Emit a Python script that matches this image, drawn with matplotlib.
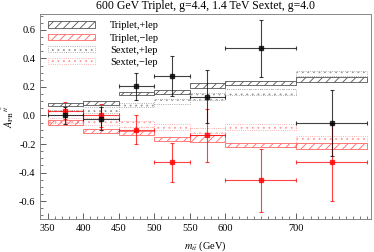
import matplotlib
matplotlib.use("Agg")
import matplotlib.pyplot as plt
from matplotlib.patches import Patch
from matplotlib.ticker import MultipleLocator
import numpy as np

plt.rcParams['font.family'] = ['Liberation Serif', 'DejaVu Serif']
plt.rcParams['mathtext.fontset'] = 'stix'
plt.rcParams['hatch.linewidth'] = 0.6

# bin edges (GeV)
edges = [350, 400, 450, 500, 550, 600, 700, 800]

# theory bands (low, high)
trip_plus_lo = [0.063, 0.075, 0.144, 0.150, 0.195, 0.212, 0.237]
trip_plus_hi = [0.085, 0.098, 0.166, 0.178, 0.225, 0.240, 0.271]
trip_minus_lo = [-0.065, -0.120, -0.140, -0.180, -0.188, -0.222, -0.238]
trip_minus_hi = [-0.035, -0.095, -0.110, -0.150, -0.140, -0.190, -0.194]
sext_plus_lo = [0.005, 0.017, 0.058, 0.082, 0.110, 0.140, 0.275]
sext_plus_hi = [0.035, 0.060, 0.090, 0.118, 0.158, 0.182, 0.312]
sext_minus_lo = [-0.050, -0.070, -0.080, -0.105, -0.122, -0.105, -0.190]
sext_minus_hi = [-0.018, -0.020, -0.040, -0.062, -0.088, -0.062, -0.142]

# pseudo-data
x_c = [375, 425, 475, 525, 575, 650, 750]
plus_y = [0.000, -0.023, 0.203, 0.277, 0.132, 0.470, -0.053]
plus_err = [0.060, 0.080, 0.092, 0.140, 0.185, 0.198, 0.228]
minus_y = [0.033, 0.002, -0.100, -0.327, -0.139, -0.455, -0.327]
minus_err = [0.058, 0.080, 0.100, 0.137, 0.185, 0.223, 0.270]

lefts = np.array(edges[:-1])
widths = np.diff(edges)

fig = plt.figure(figsize=(3.74, 2.52), dpi=100)
ax = fig.add_axes([0.108, 0.131, 0.884, 0.813])

def band(lo, hi, col, hatch, ls):
    lo = np.array(lo); hi = np.array(hi)
    ax.bar(lefts, hi - lo, width=widths, bottom=lo, align='edge',
           facecolor='none', edgecolor=col, hatch=hatch, linewidth=0.6, linestyle=ls)

gray = '#555555'
pink = '#ff6666'
band(sext_plus_lo, sext_plus_hi, '#999999', '...', ':')
band(sext_minus_lo, sext_minus_hi, '#ff9999', '...', ':')
band(trip_plus_lo, trip_plus_hi, gray, '////', '-')
band(trip_minus_lo, trip_minus_hi, pink, '////', '-')

xerr = widths / 2
ax.errorbar(x_c, minus_y, yerr=minus_err, xerr=xerr, fmt='s', color='red', ms=2.5,
            elinewidth=0.8, capsize=1.5, capthick=0.8, alpha=0.75)
ax.errorbar(x_c, plus_y, yerr=plus_err, xerr=xerr, fmt='s', color='black', ms=2.5,
            elinewidth=0.8, capsize=1.5, capthick=0.8, alpha=0.75)

ax.set_xlim(340, 805)
ax.set_ylim(-0.725, 0.71)
ax.set_xticks([350, 400, 450, 500, 550, 600, 700])
ax.xaxis.set_minor_locator(MultipleLocator(10))
ax.set_yticks([-0.6, -0.4, -0.2, 0.0, 0.2, 0.4, 0.6])
ax.yaxis.set_minor_locator(MultipleLocator(0.05))
ax.yaxis.set_major_formatter(plt.FuncFormatter(lambda v, p: '%.1f' % v if abs(v) > 1e-9 else '0.0'))
ax.tick_params(which='both', direction='in', labelsize=7.5, colors='#444444', labelcolor='black')
ax.tick_params(which='major', length=4, width=0.6)
ax.tick_params(which='minor', length=2, width=0.5)
for s in ax.spines.values():
    s.set_color('#888888')
    s.set_linewidth(0.7)

ax.set_xlabel(r'$m_{t\bar{t}}$ (GeV)', fontsize=7.5, labelpad=5)
ax.set_ylabel(r'$A_{\mathrm{FB}}{}^{t\bar{t}}$', fontsize=7.5, labelpad=2)
ax.set_title('600 GeV Triplet, g=4.4, 1.4 TeV Sextet, g=4.0', fontsize=8.5, pad=4)

handles = [
    Patch(facecolor='none', edgecolor=gray, hatch='////', linewidth=0.6),
    Patch(facecolor='none', edgecolor=pink, hatch='////', linewidth=0.6),
    Patch(facecolor='none', edgecolor='#999999', hatch='...', linewidth=0.6, linestyle=':'),
    Patch(facecolor='none', edgecolor='#ff9999', hatch='...', linewidth=0.6, linestyle=':'),
]
labels = ['Triplet,+lep', 'Triplet,\u2212lep', 'Sextet,+lep', 'Sextet,\u2212lep']
ax.legend(handles, labels, loc='upper left', frameon=False, fontsize=7.5,
          handlelength=4.5, handleheight=0.6, handletextpad=1.5, labelspacing=0.3,
          bbox_to_anchor=(0.0, 1.0), borderaxespad=0.3)

fig.savefig('out.png', dpi=100)
